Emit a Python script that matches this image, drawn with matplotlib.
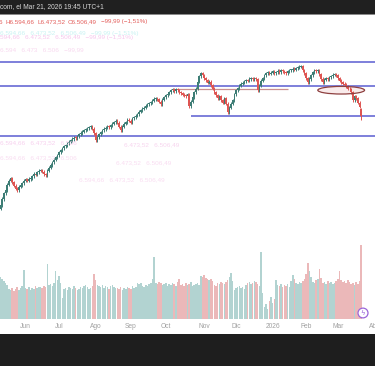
import numpy as np
import pandas as pd
import matplotlib
matplotlib.use("Agg")
import matplotlib.pyplot as plt
from matplotlib.patches import Ellipse, Rectangle, Circle

# daily closes, May 9 2025 -> Mar 20 2026
closes = [
    5577, 5640, 5700, 5734, 5790, 5830, 5860, 5815, 5780, 5750,
    5734, 5770, 5787, 5805, 5830, 5845, 5830, 5850, 5860, 5880,
    5905, 5895, 5920, 5935, 5944, 5925, 5900, 5892, 5935, 5970,
    5997, 6025, 6050, 6080, 6100, 6130, 6154, 6175, 6195, 6205,
    6225, 6240, 6259, 6270, 6285, 6280, 6300, 6320, 6333, 6345,
    6360, 6370, 6385, 6395, 6406, 6380, 6330, 6259, 6290, 6320,
    6343, 6360, 6375, 6390, 6400, 6395, 6416, 6430, 6445, 6459,
    6440, 6400, 6364, 6400, 6430, 6448, 6470, 6460, 6440, 6490,
    6500, 6515, 6530, 6555, 6574, 6590, 6600, 6620, 6635, 6645,
    6658, 6670, 6690, 6700, 6685, 6660, 6637, 6680, 6710, 6731,
    6745, 6760, 6784, 6790, 6770, 6790, 6780, 6763, 6750, 6735,
    6725, 6721, 6740, 6616, 6660, 6710, 6763, 6800, 6870, 6931,
    6962, 6940, 6910, 6889, 6860, 6870, 6836, 6800, 6760, 6731,
    6700, 6720, 6679, 6650, 6700, 6640, 6553, 6600, 6640, 6679,
    6740, 6780, 6805, 6830, 6850, 6860, 6875, 6889, 6880, 6900,
    6910, 6895, 6905, 6899, 6784, 6830, 6880, 6910, 6940, 6960,
    6973, 6955, 6965, 6980, 6960, 6973, 6985, 6970, 6994, 6980,
    6970, 6962, 6980, 6990, 6994, 7005, 6995, 7015, 7020, 7030,
    7036, 6994, 6960, 6910, 6868, 6900, 6940, 6973, 6990, 6980,
    6994, 6950, 6900, 6868, 6890, 6910, 6900, 6920, 6931, 6945,
    6952, 6940, 6910, 6880, 6868, 6850, 6840, 6826, 6800, 6790,
    6763, 6679, 6720, 6700, 6650, 6606.48, 6506.49,
]

volumes = [
    4.2, 4.0, 3.8, 3.6, 3.4, 3.0, 2.9, 3.1, 2.8, 3.0, 3.2, 2.9, 3.1,
    3.3, 4.9, 3.1, 3.0, 3.2, 2.9, 3.1, 3.0, 3.3, 3.1, 3.2,
    3.2, 3.1, 3.3, 3.2, 5.5, 3.4, 3.5, 3.3, 3.6, 4.8, 3.9, 4.3, 3.6, 2.1,
    3.0, 3.1, 2.9, 3.2, 3.1, 3.0, 3.3, 3.1, 2.9, 3.0, 3.2, 3.1, 3.3, 3.4, 3.2, 3.0, 3.1, 3.3,
    4.5, 3.9, 3.4,
    3.3, 3.2, 3.4, 3.1, 3.3, 3.2, 3.0, 3.3, 3.4, 3.2, 3.1,
    3.1, 3.0, 3.2, 2.9, 3.1, 3.0, 3.2, 3.1, 3.0, 3.3, 3.1, 3.2,
    3.6, 3.5, 3.6, 3.3, 3.2, 3.4, 3.3, 3.5, 3.6, 4.0, 6.2,
    3.6, 3.5, 3.7, 3.6, 3.4, 3.5, 3.6, 3.3, 3.5,
    3.4, 3.6, 3.5, 3.3, 3.7, 4.0,
    3.4, 3.5, 3.3, 3.6, 3.4, 3.5, 3.7, 3.3, 3.4, 3.5, 3.6, 3.4,
    4.3, 4.2, 4.4, 4.1, 4.0, 3.9, 4.0, 3.8, 3.4, 3.3,
    3.6, 3.5, 3.7, 3.6, 3.5, 3.7, 3.9, 4.2, 4.6, 3.8, 2.9,
    3.1, 3.2, 3.3, 3.1, 3.2, 3.0, 3.4, 3.6, 3.7, 3.5, 3.6, 3.8, 3.7, 3.5,
    3.3, 6.7, 2.6, 1.2, 1.5, 1.0, 1.8, 2.2, 1.6, 2.0, 3.9,
    3.4, 3.3, 3.5, 3.2, 3.4, 3.3, 3.5, 3.2, 3.8, 4.4, 4.0,
    3.6, 3.5, 3.7, 3.6, 3.8, 4.0, 4.5, 5.6, 4.8, 4.2,
    3.7, 3.6, 3.9, 4.0, 5.0, 4.1,
    3.6, 3.7, 3.5, 3.8, 3.6, 3.7, 3.5, 3.6, 3.8, 4.0, 4.8, 3.9,
    3.7, 3.8, 3.6, 3.9, 3.7, 3.5, 3.6, 3.4, 3.7, 3.5, 3.8, 7.4,
]

last_open, last_high, last_low = 6590.00, 6594.66, 6473.52
holidays = ["2025-05-26", "2025-06-19", "2025-07-04", "2025-09-01", "2025-11-27",
            "2025-12-25", "2026-01-01", "2026-01-19", "2026-02-16"]
month_abbr = {1: "2026", 2: "Feb", 3: "Mar", 4: "Abr", 5: "May", 6: "Jun",
              7: "Jul", 8: "Ago", 9: "Sep", 10: "Oct", 11: "Nov", 12: "Dic"}

blue_levels = [7078, 6826, 6301]
support_level = 6513
red_level = 6795

W, H = 375, 366
px_per_bar = 1.67
pts_per_px = 10.5


def fy(px):
    return 1 - px / H


def es(v):
    # spanish style number: 6.594,66
    return f"{v:,.2f}".replace(",", "X").replace(".", ",").replace("X", ".")


c = np.array(closes, dtype=float)
o = np.concatenate([[c[0] - 40], c[:-1]])
o[-1] = last_open
wick = 16
hi = np.maximum(o, c) + wick
lo = np.minimum(o, c) - wick
hi[-1], lo[-1] = last_high, last_low
x = np.arange(len(c))
up = c >= o

fig = plt.figure(figsize=(3.75, 3.66), dpi=100)
fig.patch.set_facecolor("white")
xlim = (-0.3, -0.3 + W / px_per_bar)

# volume pane
vax = fig.add_axes([0, fy(319), 1, 80 / H])
vcol = np.where(up, "#b2d3d1", "#ebb8b9")
vax.bar(x, volumes, width=0.9, color=vcol, linewidth=0)
vax.set_xlim(*xlim)
vax.set_ylim(0, 8.0)
vax.patch.set_alpha(0)
for s in vax.spines.values():
    s.set_visible(False)
vax.set_yticks([])

dates = pd.bdate_range("2025-05-09", "2026-04-02")
dates = dates[~dates.isin(pd.to_datetime(holidays))]
ticks = [i for i in range(1, len(dates)) if dates[i].month != dates[i - 1].month]
vax.set_xticks(ticks)
vax.set_xticklabels([month_abbr[dates[i].month] for i in ticks])
vax.tick_params(axis="x", length=0, pad=3.2, labelsize=4.8, labelcolor="#a0a0a0")
for t in vax.get_xticklabels():
    t.set_family("Liberation Sans")

# price pane
ax = fig.add_axes([0, fy(320), 1, (320 - 15) / H])
ax.set_xlim(*xlim)
ax.set_ylim(6506 - (320 - 116.5) * pts_per_px, 6506 + (116.5 - 15) * pts_per_px)
ax.axis("off")

for lvl in blue_levels:
    ax.axhline(lvl, color="#7375d8", lw=1.3, zorder=1)
ax.hlines(support_level, 114, xlim[1], color="#7375d8", lw=1.3, zorder=1)
ax.hlines(red_level, 106, 172, color="#c99090", lw=0.9, zorder=1)

ccol = np.where(up, "#3d7d75", "#de5552")
ax.vlines(x, lo, hi, color=ccol, lw=0.7, zorder=3)
body = np.maximum(np.abs(c - o), 10)
ax.bar(x, body, bottom=np.minimum(o, c), width=0.9, color=ccol, linewidth=0, zorder=3)

ax.add_patch(Ellipse((204, 6782), 28, 80, facecolor="#f2d4d4", alpha=0.45,
                     edgecolor="none", zorder=2))
ax.add_patch(Ellipse((204, 6782), 28, 80, facecolor="none",
                     edgecolor="#8e4040", lw=0.9, zorder=4))

# faint ghost texts
ghost = dict(fontsize=4.6, family="Liberation Sans", va="center")
fig.text(0.0, fy(33), "6.594,66   6.473,52   6.506,49   −99,99 (−1,51%)", color="#c8f2f2", **ghost)
fig.text(0.0, fy(38), "594,66   6.473,52   6.506,49   −99,99 (−1,51%)", color="#f6c6ec", **ghost)
fig.text(0.0, fy(50), "6.594   6.473   6.506   −99,99", color="#f8d8ef", **ghost)
fig.text(0.0, fy(143), "6.594,66   6.473,52   6.506", color="#f7d0ee", **ghost)
fig.text(0.33, fy(145), "6.473,52   6.506,49", color="#f7d4ee", **ghost)
fig.text(0.0, fy(158), "6.594,66   6.473,52   6.506", color="#f9dcf1", **ghost)
fig.text(0.31, fy(163), "6.473,52   6.506,49", color="#f9dcf1", **ghost)
fig.text(0.21, fy(180), "6.594,66   6.473,52   6.506,49", color="#f9dcf1", **ghost)

# top bar
fig.patches.append(Rectangle((0, fy(14)), 1, 14 / H, transform=fig.transFigure,
                             facecolor="#202020", edgecolor="none", zorder=0))
fig.patches.append(Rectangle((0, fy(15)), 1, 1.2 / H, transform=fig.transFigure,
                             facecolor="#8a8a8a", edgecolor="none", zorder=0))
fig.text(0.0, fy(7), "com, el Mar 21, 2026 19:45 UTC+1", color="#d8d8d8",
         fontsize=4.8, family="Liberation Sans", va="center")

# OHLC legend
leg = dict(fontsize=4.5, family="Liberation Sans", va="center", color="#e35d5a")
fig.text(-0.004, fy(22), "6", **leg)
fig.text(6 / W, fy(22), "H" + es(last_high), **leg)
fig.text(37 / W, fy(22), "L" + es(last_low), **leg)
fig.text(68 / W, fy(22), "C" + es(closes[-1]), **leg)
chg = closes[-1] - closes[-2]
pct = chg / closes[-2] * 100
fig.text(101 / W, fy(22), f"{chg:.2f} ({pct:.2f}%)".replace(".", ",").replace("-", "−"), **leg)

# lightning badge
fig.patches.append(Circle((363 / W, fy(313)), 5 / W, transform=fig.transFigure,
                          facecolor="white", edgecolor="#9b66d9", lw=0.9, zorder=5))
fig.text(363 / W, fy(313), "ϟ", color="#9b66d9", fontsize=5, ha="center", va="center", zorder=6)

# bottom bar
fig.patches.append(Rectangle((0, 0), 1, 32 / H, transform=fig.transFigure,
                             facecolor="#1e1e1e", edgecolor="none", zorder=0))

fig.savefig("out.png", dpi=100)
